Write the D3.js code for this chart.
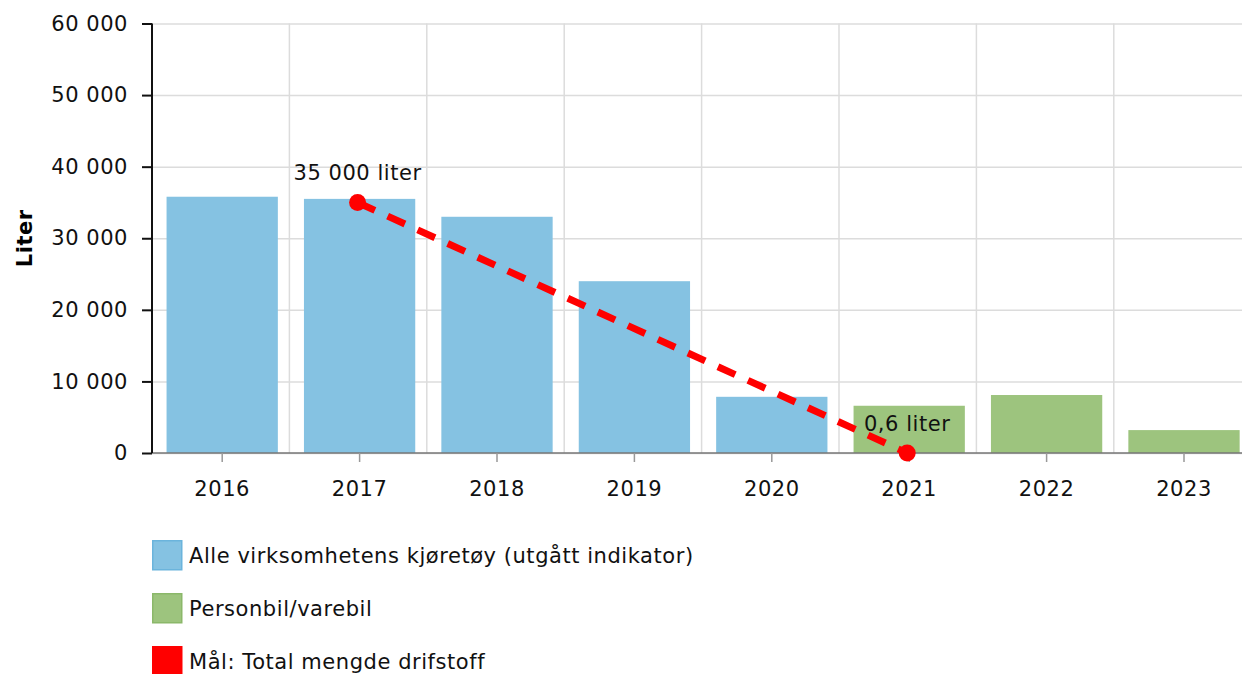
<!DOCTYPE html>
<html>
<head>
<meta charset="utf-8">
<script src="https://cdn.jsdelivr.net/npm/d3@7"></script>
<style>
  body { margin: 0; background: #fff; }
  svg { display: block; font-family: "DejaVu Sans", Verdana, sans-serif; }
  svg text { letter-spacing: 0.55px; }
  .grid line { stroke: #dcdcdc; stroke-width: 1.5; }
  .grid path { display: none; }
</style>
</head>
<body>
<div class="svg-wrapper"></div>
<script>
years       = ["2016", "2017", "2018", "2019", "2020", "2021", "2022", "2023"];
alleValues  = [35800, 35500, 33000, 24000, 7850, null, null, null];
personValues = [null, null, null, null, null, 6600, 8100, 3200];
goalYears   = ["2017", "2021"];
goalValues  = [35000, 0.6];
goalLabels  = ["35 000 liter", "0,6 liter"];
yTicks      = [0, 10000, 20000, 30000, 40000, 50000, 60000];
legendItems = ["Alle virksomhetens kjøretøy (utgått indikator)", "Personbil/varebil", "Mål: Total mengde drifstoff"];

var colors = { alle: "#85c2e2", person: "#9dc47e", goal: "#ff0000" };
var legendStroke = ["#6bb4dc", "#8bb86a", "#ff0000"];

var W = 1242, H = 674,
    margin = {top: 23.5, left: 152},
    step = 137.4,
    shift = 1.5,
    plotBottom = 453;

var svg = d3.select(".svg-wrapper").append("svg")
  .attr("width", W)
  .attr("height", H);

var nb = d3.formatLocale({decimal: ",", thousands: " ", grouping: [3], currency: ["", ""]});
var fmt = nb.format(",d");

var xScale = d3.scaleBand()
  .domain(years)
  .range([margin.left + shift, margin.left + shift + 8 * step])
  .paddingInner(0.19)
  .paddingOuter(0.095);

var xPoint = function(y) { return xScale(y) + xScale.bandwidth() / 2; };

var yScale = d3.scaleLinear()
  .domain([0, 60000])
  .range([plotBottom, margin.top]);

// horizontal grid
svg.append("g")
  .attr("class", "grid")
  .attr("transform", "translate(" + margin.left + ",0)")
  .call(d3.axisLeft(yScale).tickValues(yTicks).tickSize(-(W - margin.left)).tickFormat(""));

// vertical grid at category boundaries
svg.append("g")
  .attr("class", "grid")
  .selectAll("line")
  .data(years.slice(1))
  .enter().append("line")
    .attr("x1", function(d, i) { return margin.left + (i + 1) * step; })
    .attr("x2", function(d, i) { return margin.left + (i + 1) * step; })
    .attr("y1", margin.top)
    .attr("y2", plotBottom);

// bars
function drawBars(values, color) {
  svg.append("g").selectAll("rect")
    .data(years.map(function(y, i) { return {year: y, value: values[i]}; }).filter(function(d) { return d.value != null; }))
    .enter().append("rect")
      .attr("x", function(d) { return xScale(d.year); })
      .attr("width", xScale.bandwidth())
      .attr("y", function(d) { return yScale(d.value); })
      .attr("height", function(d) { return plotBottom - yScale(d.value); })
      .attr("fill", color);
}
drawBars(alleValues, colors.alle);
drawBars(personValues, colors.person);

// x axis
var g_xAxis = svg.append("g")
  .attr("transform", "translate(0," + plotBottom + ")");
g_xAxis.append("line")
  .attr("x1", margin.left).attr("x2", W)
  .attr("stroke", "#777").attr("stroke-width", 1.5);
var xt = g_xAxis.selectAll(".xt")
  .data(years)
  .enter().append("g")
    .attr("transform", function(d) { return "translate(" + xPoint(d) + ",0)"; });
xt.append("line").attr("y1", 0).attr("y2", 9).attr("stroke", "#999").attr("stroke-width", 1.5);
xt.append("text")
  .attr("y", 43)
  .attr("text-anchor", "middle")
  .style("font-size", "21px")
  .attr("fill", "#111")
  .text(function(d) { return d; });

// y axis
var g_yAxis = svg.append("g")
  .attr("transform", "translate(" + margin.left + ",0)")
  .call(d3.axisLeft(yScale).tickValues(yTicks).tickSize(10).tickPadding(14).tickFormat(fmt));
g_yAxis.select(".domain").attr("stroke", "#111").attr("stroke-width", 2).attr("d", "M0," + margin.top + "V" + plotBottom);
g_yAxis.selectAll(".tick line").attr("stroke", "#111").attr("stroke-width", 2);
g_yAxis.selectAll(".tick text")
  .style("font-size", "21px")
  .style("font-family", "DejaVu Sans, Verdana, sans-serif")
  .attr("fill", "#111");

svg.append("text")
  .attr("transform", "translate(32," + ((margin.top + plotBottom) / 2) + ") rotate(-90)")
  .attr("text-anchor", "middle")
  .style("font-size", "21px")
  .style("font-weight", "bold")
  .text("Liter");

// goal line
var goal = goalYears.map(function(y, i) { return {year: y, value: goalValues[i], label: goalLabels[i]}; });
var line = d3.line()
  .x(function(d) { return xPoint(d.year) - 2; })
  .y(function(d) { return yScale(d.value); });

svg.append("path")
  .attr("d", line(goal))
  .attr("fill", "none")
  .attr("stroke", colors.goal)
  .attr("stroke-width", 7)
  .attr("stroke-dasharray", "19,14");

svg.append("g").selectAll("circle")
  .data(goal)
  .enter().append("circle")
    .attr("cx", function(d) { return xPoint(d.year) - 2; })
    .attr("cy", function(d) { return yScale(d.value); })
    .attr("r", 8.5)
    .attr("fill", colors.goal);

svg.append("g").selectAll("text")
  .data(goal)
  .enter().append("text")
    .attr("x", function(d) { return xPoint(d.year) - 2; })
    .attr("y", function(d) { return yScale(d.value) - 22; })
    .attr("text-anchor", "middle")
    .style("font-size", "21px")
    .attr("fill", "#111")
    .text(function(d) { return d.label; });

// legend
var legendColors = [colors.alle, colors.person, colors.goal];
var legend = svg.append("g").selectAll("g")
  .data(legendItems)
  .enter().append("g")
    .attr("transform", function(d, i) { return "translate(152," + (540 + i * 53) + ")"; });
legend.append("rect")
  .attr("x", 0.75).attr("y", 0.75)
  .attr("width", 29).attr("height", 29)
  .attr("fill", function(d, i) { return legendColors[i]; })
  .attr("stroke", function(d, i) { return legendStroke[i]; })
  .attr("stroke-width", 1.5);
legend.append("text")
  .attr("x", 37)
  .attr("y", 23)
  .style("font-size", "21px")
  .attr("fill", "#111")
  .text(function(d) { return d; });
</script>
</body>
</html>
